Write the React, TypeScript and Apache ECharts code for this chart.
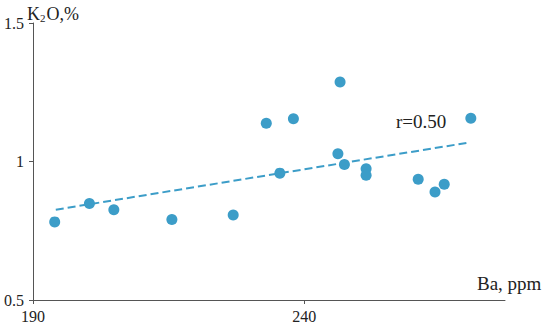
import React, { useEffect, useRef } from "react";
import * as echarts from "echarts";

const baValues = [194.0, 200.4, 204.9, 215.6, 226.9, 233.0, 235.5, 238.0, 246.2, 246.6, 247.4, 251.4, 251.4, 261.0, 264.1, 265.8, 270.7];
const k2oValues = [0.782, 0.848, 0.826, 0.791, 0.807, 1.138, 0.958, 1.154, 1.028, 1.287, 0.989, 0.974, 0.950, 0.936, 0.890, 0.918, 1.156];
const trendX = [194.2, 270.2];
const trendY = [0.826, 1.068];
const xTicks = [190, 240];
const rLabel = "r=0.50";

const COLOR = "#3c9dc8";
const AXIS = "#555555";
const FONT = "Liberation Serif";

export default function App() {
  const ref = useRef<HTMLDivElement>(null);
  useEffect(() => {
    if (!ref.current) return;
    const chart = echarts.init(ref.current, undefined, { renderer: "svg" });
    const points = baValues.map((x, i) => [x, k2oValues[i]]);
    const trend = trendX.map((x, i) => [x, trendY[i]]);
    chart.setOption({
      animation: false,
      backgroundColor: "#ffffff",
      grid: { left: 33, right: 45, top: 23, bottom: 29, containLabel: false },
      xAxis: {
        type: "value",
        min: 190,
        max: 277,
        interval: 50,
        splitLine: { show: false },
        axisLine: { lineStyle: { color: AXIS, width: 1 } },
        axisTick: { show: true, length: 4, customValues: xTicks, lineStyle: { color: AXIS } },
        axisLabel: { customValues: xTicks, color: "#222", fontFamily: FONT, fontSize: 16, margin: 8 },
      },
      yAxis: {
        type: "value",
        min: 0.5,
        max: 1.5,
        interval: 0.5,
        splitLine: { show: false },
        axisLine: { show: true, lineStyle: { color: AXIS, width: 1 } },
        axisTick: { show: true, length: 4, lineStyle: { color: AXIS } },
        axisLabel: { color: "#222", fontFamily: FONT, fontSize: 16, margin: 9 },
      },
      series: [
        {
          type: "line",
          data: trend,
          symbol: "none",
          lineStyle: { color: COLOR, width: 2, type: [8, 4] },
          z: 1,
        },
        {
          type: "scatter",
          data: points,
          symbolSize: 11,
          itemStyle: { color: COLOR, opacity: 1 },
          z: 2,
        },
      ],
      graphic: [
        {
          type: "text",
          left: 477,
          top: 274,
          style: { text: "Ba, ppm", fontFamily: FONT, fontSize: 19, fill: "#222" },
        },
        {
          type: "text",
          left: 396,
          top: 112,
          style: { text: rLabel, fontFamily: FONT, fontSize: 19, fill: "#222" },
        },
        {
          type: "text",
          left: 27,
          top: 5,
          style: {
            text: "{a|K}{b|2}{a|O,%}",
            fill: "#222",
            rich: {
              a: { fontFamily: FONT, fontSize: 18, lineHeight: 22, verticalAlign: "bottom" },
              b: { fontFamily: FONT, fontSize: 11, lineHeight: 22, verticalAlign: "bottom", padding: [0, 1, 0, 0] },
            },
          },
        },
      ],
    });
    return () => chart.dispose();
  }, []);
  return <div ref={ref} style={{ width: 550, height: 329, position: "fixed", left: 0, top: 0 }} />;
}
